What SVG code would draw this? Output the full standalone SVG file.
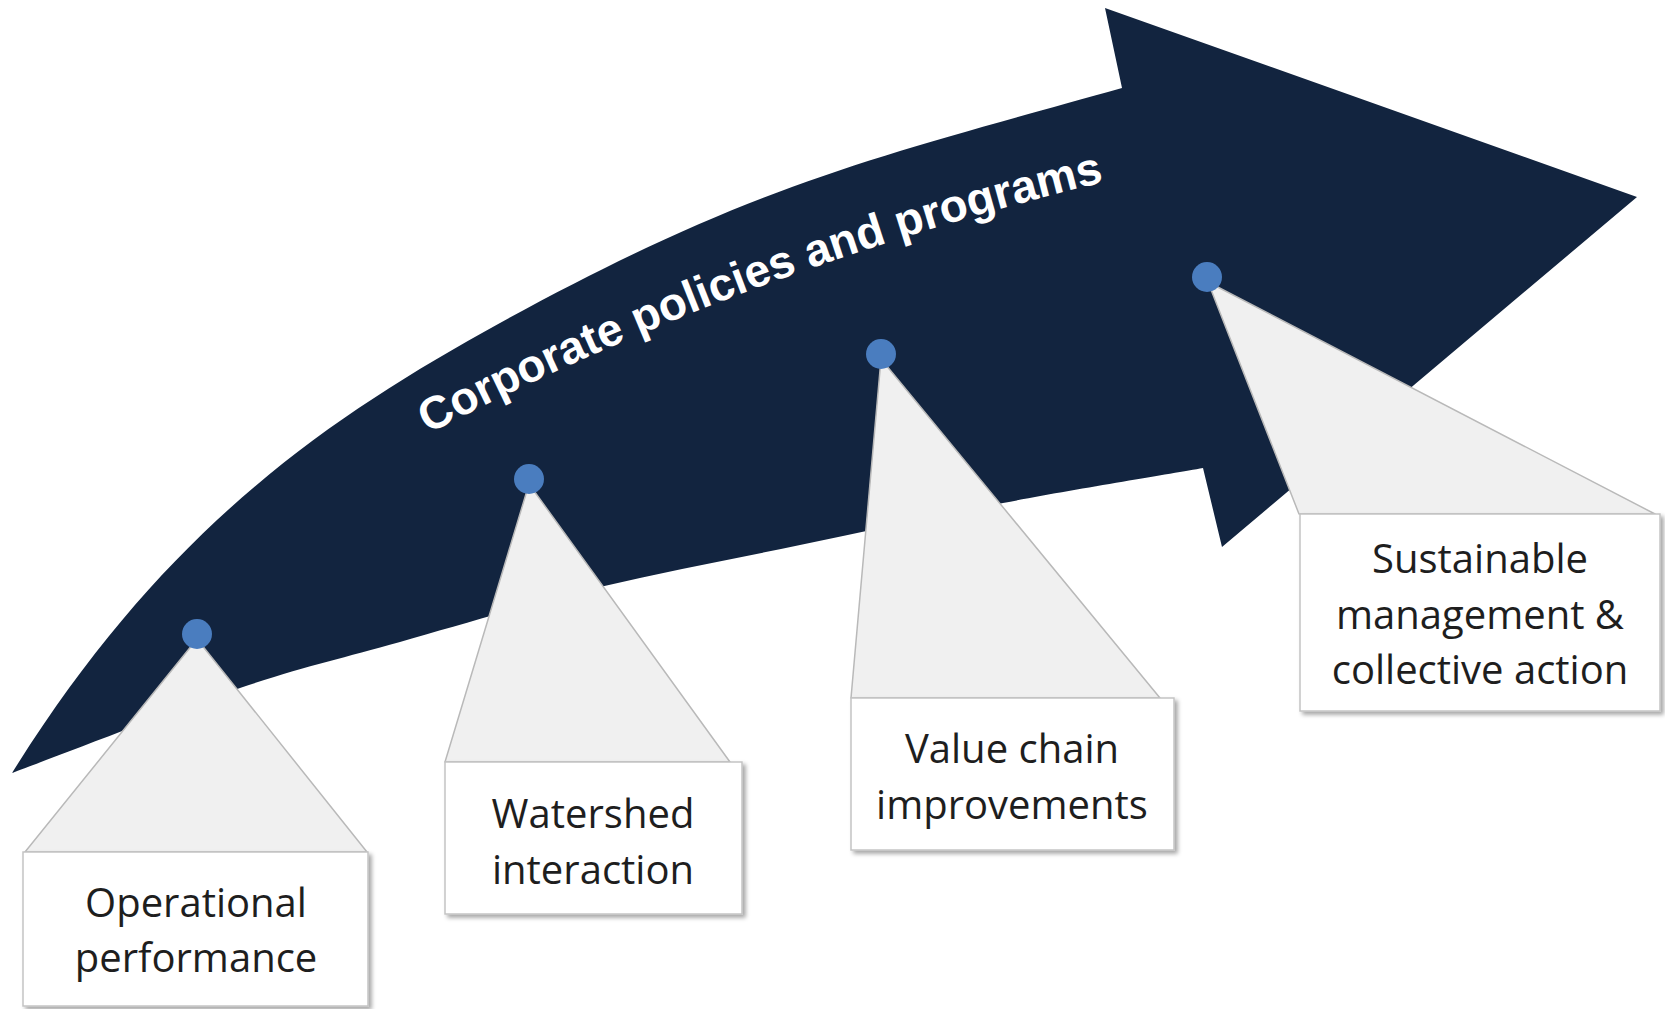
<svg xmlns="http://www.w3.org/2000/svg" width="1665" height="1009" viewBox="0 0 1665 1009">
  <defs>
    <style>
      .arrow { fill: #12243f; }
      .callout { fill: #f0f0f0; stroke: #b9b9b9; stroke-width: 1.5; stroke-linejoin: round; }
      .box { fill: #ffffff; stroke: #c4c4c4; stroke-width: 1.5; filter: url(#shadow); }
      .dot { fill: #4a7dbf; }
      .label { font-family: "Open Sans", "Noto Sans", "Liberation Sans", sans-serif; font-size: 40px; fill: #1e1e1e; text-anchor: middle; }
      .banner { font-family: "Liberation Sans", Arial, sans-serif; font-weight: bold; font-size: 46px; fill: #ffffff; }
    </style>
    <filter id="shadow" x="-5%" y="-5%" width="115%" height="120%">
      <feDropShadow dx="3" dy="3" stdDeviation="2" flood-color="#000000" flood-opacity="0.35"/>
    </filter>
    <path id="bannerPath" d="M 428,434 Q 751,266 1112,180"/>
  </defs>

  <rect width="1665" height="1009" fill="#ffffff"/>

  <g id="arrow">
    <path class="arrow" d="M 12,773 C 162,533 320,422 500,323 C 750,185.5 872,158 1122,88 L 1105,8 L 1637,197 L 1222,547 L 1203,468 C 1170,474 1070,490 1003,503 C 936,516 867,531 800,545 C 733,559 667,571 600,587 C 533,603 460,625 400,642 C 340,659 305,666 240,688 C 175,710 50,759 12,773 Z"/>
    <text class="banner"><textPath href="#bannerPath">Corporate policies and programs</textPath></text>
  </g>

  <g id="connectors">
    <polygon class="callout" points="197,639 25,852 367,852"/>
    <polygon class="callout" points="529,484 445,762 730,762"/>
    <polygon class="callout" points="881,359 851,698 1160,698"/>
    <polygon class="callout" points="1208,282 1299,514 1655,514"/>
  </g>

  <g id="node-operational">
    <rect class="box" x="23" y="852" width="345" height="154"/>
    <text class="label" x="196" y="917">Operational</text>
    <text class="label" x="196" y="972">performance</text>
    <circle class="dot" cx="197" cy="634" r="15"/>
  </g>

  <g id="node-watershed">
    <rect class="box" x="445" y="762" width="297" height="152"/>
    <text class="label" x="593" y="828">Watershed</text>
    <text class="label" x="593" y="884">interaction</text>
    <circle class="dot" cx="529" cy="479" r="15"/>
  </g>

  <g id="node-valuechain">
    <rect class="box" x="851" y="698" width="323" height="152"/>
    <text class="label" x="1012" y="763">Value chain</text>
    <text class="label" x="1012" y="819">improvements</text>
    <circle class="dot" cx="881" cy="354" r="15"/>
  </g>

  <g id="node-sustainable">
    <rect class="box" x="1300" y="514" width="360" height="197"/>
    <text class="label" x="1480" y="573">Sustainable</text>
    <text class="label" x="1480" y="629">management &amp;</text>
    <text class="label" x="1480" y="684">collective action</text>
    <circle class="dot" cx="1207" cy="277" r="15"/>
  </g>
</svg>
